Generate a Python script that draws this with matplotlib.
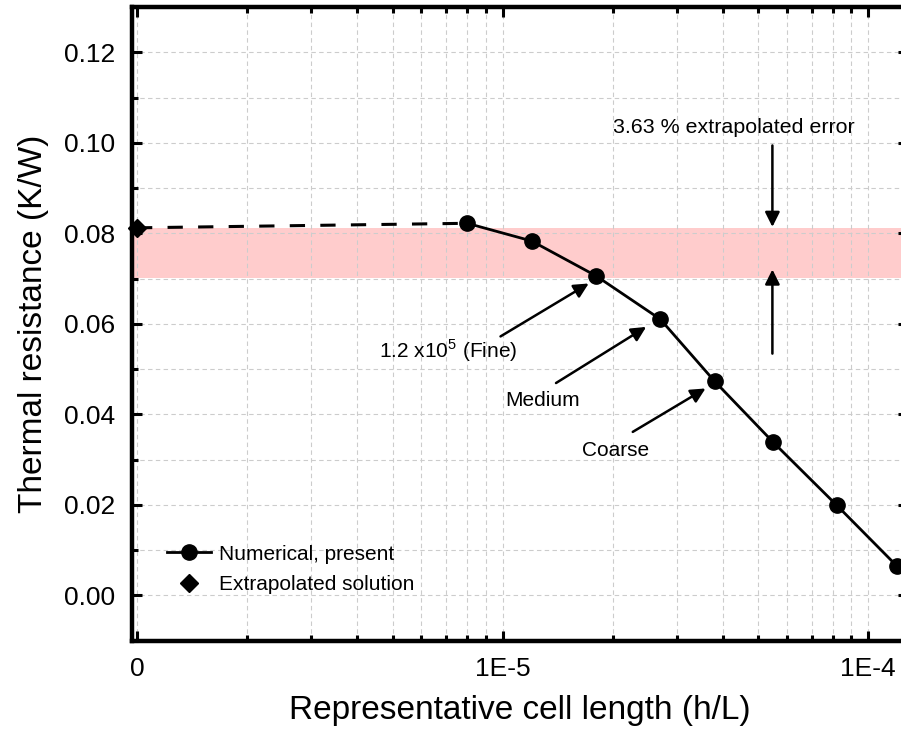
import matplotlib
matplotlib.use("Agg")
import matplotlib.pyplot as plt
from matplotlib.ticker import FixedLocator, FixedFormatter, LogLocator, MultipleLocator, NullFormatter

plt.rcParams['font.family'] = ['Liberation Sans', 'DejaVu Sans']

# data (h/L = 1E-6 is drawn as "0")
h_L = [8.0e-6, 1.2e-5, 1.8e-5, 2.7e-5, 3.8e-5, 5.5e-5, 8.2e-5, 1.2e-4]
R_num = [0.0822, 0.0783, 0.0706, 0.0610, 0.0473, 0.0338, 0.0199, 0.0064]
h_ext = 1e-6
R_ext = 0.0812
band_lo, band_hi = 0.0701, 0.0812
x_ticks = [1e-6, 1e-5, 1e-4]
x_labels = ['0', '1E-5', '1E-4']

fig = plt.figure(figsize=(9.01, 7.34), dpi=100)
ax = fig.add_axes([132/901, 93.5/734, 776/901, 633.5/734])

ax.axhspan(band_lo, band_hi, color='#ffcccc', lw=0, zorder=0)

# dashed link from extrapolated value to the finest mesh
ax.plot([h_ext, h_L[0]], [R_ext, R_num[0]], 'k', lw=2.2, dashes=(5, 5), zorder=3)
ax.plot(h_L, R_num, 'k-', lw=2.0, marker='o', ms=11, label='Numerical, present', zorder=4)
ax.plot([h_ext], [R_ext], 'kD', ms=9, label='Extrapolated solution', zorder=5, clip_on=False)

ax.set_xscale('log')
ax.set_xlim(0.969e-6, 1.285e-4)
ax.set_ylim(-0.01, 0.13)

ax.xaxis.set_major_locator(FixedLocator(x_ticks))
ax.xaxis.set_major_formatter(FixedFormatter(x_labels))
ax.xaxis.set_minor_locator(LogLocator(base=10, subs=range(2, 10)))
ax.xaxis.set_minor_formatter(NullFormatter())
ax.yaxis.set_major_locator(MultipleLocator(0.02))
ax.yaxis.set_minor_locator(MultipleLocator(0.01))
ax.yaxis.set_major_formatter(plt.FormatStrFormatter('%.2f'))

ax.grid(True, which='both', color='#cccccc', ls=(0, (4, 3)), lw=0.8)
ax.set_axisbelow(True)

for s in ax.spines.values():
    s.set_linewidth(3.2)
ax.tick_params(which='both', direction='in', top=True, right=True, width=2.2)
ax.tick_params(which='major', length=7, labelsize=19, pad=12)
ax.tick_params(which='minor', length=4)

ax.set_xlabel('Representative cell length (h/L)', fontsize=24, labelpad=10)
ax.set_ylabel('Thermal resistance (K/W)', fontsize=24, labelpad=11)

arrow = dict(arrowstyle='-|>', color='k', lw=1.8, mutation_scale=22, shrinkA=0, shrinkB=0)
ax.annotate('', xy=(1.72e-5, 0.0689), xytext=(9.87e-6, 0.0572), arrowprops=arrow)
ax.annotate('', xy=(2.47e-5, 0.0593), xytext=(1.40e-5, 0.0469), arrowprops=arrow)
ax.annotate('', xy=(3.59e-5, 0.0457), xytext=(2.27e-5, 0.0361), arrowprops=arrow)
ax.annotate('', xy=(5.47e-5, 0.0814), xytext=(5.47e-5, 0.0994), arrowprops=arrow)
ax.annotate('', xy=(5.47e-5, 0.0720), xytext=(5.47e-5, 0.0534), arrowprops=arrow)

ax.text(7.12e-6, 0.0541, '1.2 x10$^{\\mathregular{5}}$ (Fine)', fontsize=15, ha='center', va='center')
ax.text(1.29e-5, 0.0431, 'Medium', fontsize=15, ha='center', va='center')
ax.text(2.04e-5, 0.0320, 'Coarse', fontsize=15, ha='center', va='center')
ax.text(4.28e-5, 0.1034, '3.63 % extrapolated error', fontsize=15.4, ha='center', va='center')

ax.legend(loc='lower left', bbox_to_anchor=(0.035, 0.06), frameon=False, fontsize=15,
          handlelength=2.1, handletextpad=0.35, labelspacing=0.55, borderaxespad=0)

fig.savefig('out.png', dpi=100)
